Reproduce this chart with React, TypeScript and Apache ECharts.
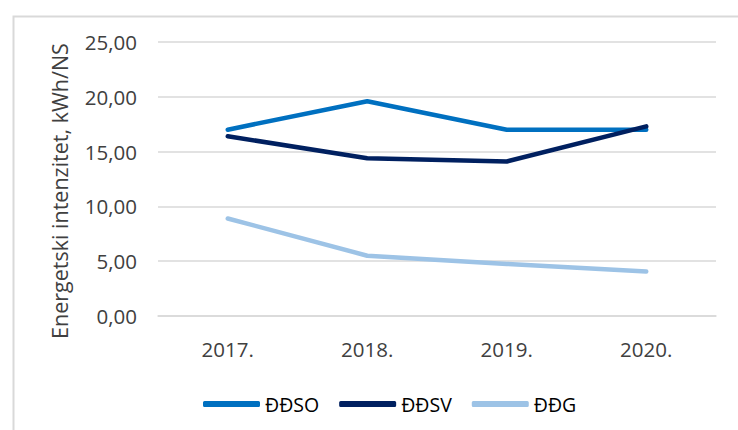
import React, { useEffect, useRef } from "react";
import * as echarts from "echarts";

const categories = ["2017.", "2018.", "2019.", "2020."];
const seriesNames = ["ĐĐSO", "ĐĐSV", "ĐĐG"];
const ddso = [17.0, 19.6, 17.0, 17.0];
const ddsv = [16.4, 14.4, 14.1, 17.3];
const ddg = [8.9, 5.5, 4.75, 4.05];
const colors = ["#0070C0", "#002060", "#9DC3E6"];
const yTicks = { min: 0, max: 25, interval: 5 };
const yAxisTitle = "Energetski intenzitet, kWh/NS";

const FONT = "'Open Sans', 'Noto Sans', sans-serif";

export default function App() {
  const ref = useRef<HTMLDivElement>(null);
  useEffect(() => {
    if (!ref.current) return;
    const chart = echarts.init(ref.current, undefined, { renderer: "svg" });
    const values = [ddso, ddsv, ddg];
    chart.setOption({
      animation: false,
      backgroundColor: "#ffffff",
      textStyle: { fontFamily: FONT },
      graphic: [
        {
          type: "rect",
          left: 11,
          top: 14,
          shape: { x: 0, y: 0, width: 800, height: 500 },
          style: { fill: "none", stroke: "#D9D9D9", lineWidth: 2 },
          silent: true,
        },
      ],
      grid: { left: 158, right: 22, top: 42, bottom: 114, containLabel: false },
      legend: {
        data: seriesNames,
        left: 198,
        top: 389,
        itemWidth: 57,
        itemHeight: 6,
        itemGap: 20,
        icon: "roundRect",
        textStyle: { fontFamily: FONT, fontSize: 19.5, color: "#000000" },
      },
      xAxis: {
        type: "category",
        data: categories,
        boundaryGap: true,
        axisLine: { show: true, lineStyle: { color: "#D9D9D9", width: 1.5 } },
        axisTick: { show: false },
        axisLabel: { color: "#404040", fontSize: 20.5, fontFamily: FONT, margin: 22 },
      },
      yAxis: {
        type: "value",
        min: yTicks.min,
        max: yTicks.max,
        interval: yTicks.interval,
        name: yAxisTitle,
        nameLocation: "middle",
        nameGap: 88,
        nameTextStyle: {
          color: "#404040",
          fontSize: 21.5,
          fontFamily: FONT,
          padding: [0, 24, 0, 0],
        },
        axisLine: { show: false },
        axisTick: { show: false },
        splitLine: { lineStyle: { color: "#D9D9D9", width: 1.5 } },
        axisLabel: {
          color: "#404040",
          fontSize: 20.5,
          fontFamily: FONT,
          margin: 21,
          formatter: (v: number) => v.toFixed(2).replace(".", ","),
        },
      },
      series: seriesNames.map((name, i) => ({
        name,
        type: "line",
        data: values[i],
        symbol: "none",
        color: colors[i],
        lineStyle: { color: colors[i], width: 4.5, cap: "round", join: "round" },
        itemStyle: { color: colors[i] },
      })),
    });
    return () => chart.dispose();
  }, []);
  return (
    <div
      ref={ref}
      style={{ position: "absolute", left: 0, top: 0, width: 738, height: 430 }}
    />
  );
}
